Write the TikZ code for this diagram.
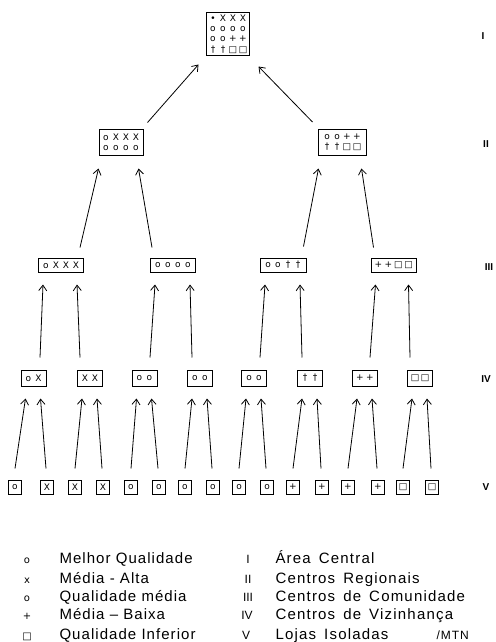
\documentclass[tikz,border=0pt]{standalone}
\usepackage{fontspec}
\setmainfont{Liberation Sans}
\newfontfamily\symf{DejaVu Sans}
\newfontfamily\legL[LetterSpace=7]{Liberation Sans}
\newfontfamily\legR[LetterSpace=8,WordSpace=1.5]{Liberation Sans}
\usetikzlibrary{arrows.meta,calc}
\newcommand\cl[1]{\makebox[10pt]{#1}}
\tikzset{
  box/.style={draw, line width=1pt, inner sep=0pt, align=center,
    font=\symf\fontsize{9}{10.3}\selectfont},
  bI/.style={box, minimum width=43pt, minimum height=43pt},
  bII/.style={box, minimum width=44pt, minimum height=26pt},
  bIII/.style={box, minimum width=45pt, minimum height=14pt},
  bIV/.style={box, minimum width=25pt, minimum height=16pt},
  bV/.style={box, minimum width=13pt, minimum height=14pt},
  arr/.style={line width=0.8pt, -{Straight Barb[length=5.5pt,width=8pt,line width=0.8pt]}},
  lvl/.style={font=\bfseries\fontsize{10}{12}\selectfont},
  legsym/.style={anchor=base, font=\symf\fontsize{10}{12}\selectfont},
  legtxt/.style={anchor=base west, font=\legL\fontsize{15}{18}\selectfont},
  legrom/.style={anchor=base, font=\fontsize{12}{14}\selectfont},
  legtxtR/.style={anchor=base west, font=\legR\fontsize{15}{18}\selectfont}
}
\begin{document}
\begin{tikzpicture}[x=1pt, y=-1pt]
\useasboundingbox (0,0) rectangle (495,642);

% level I
\node[bI] (top) at (228,34) {\cl{•}\cl{X}\cl{X}\cl{X}\\\cl{o}\cl{o}\cl{o}\cl{o}\\\cl{o}\cl{o}\cl{+}\cl{+}\\\cl{†}\cl{†}\cl{□}\cl{□}};

% level II
\node[bII] (l2a) at (121,142) {\cl{o}\cl{X}\cl{X}\cl{X}\\\cl{o}\cl{o}\cl{o}\cl{o}};
\node[bII, minimum width=48pt] (l2b) at (342,142) {\cl{o}\cl{o}\cl{+}\cl{+}\\\cl{†}\cl{†}\cl{□}\cl{□}};

% level III
\node[bIII] (l3a) at (61,265) {\cl{o}\cl{X}\cl{X}\cl{X}};
\node[bIII] (l3b) at (173,265) {\cl{o}\cl{o}\cl{o}\cl{o}};
\node[bIII, minimum width=46pt] (l3c) at (283,265) {\cl{o}\cl{o}\cl{†}\cl{†}};
\node[bIII] (l3d) at (393.5,265) {\cl{+}\cl{+}\cl{□}\cl{□}};

% level IV
\foreach \k/\x/\a/\b in {1/33.5/o/X, 2/90/X/X, 3/144.5/o/o, 4/200/o/o, 5/254/o/o, 6/310/†/†, 7/365/+/+, 8/420/□/□}
  \node[bIV] (iv\k) at (\x,378) {\cl{\a}\cl{\b}};

% level V
\foreach \k/\x/\s in {1/15/o, 2/47/X, 3/75/X, 4/103/X, 5/131/o, 6/159/o, 7/185/o, 8/213/o, 9/239/o, 10/267/o, 11/293/+, 12/322/+, 13/348/+, 14/378/+, 15/403/□, 16/432/□}
  \node[bV] (v\k) at (\x,487) {\s};

% arrows II -> I
\draw[arr] ($(l2a.north east)+(4,-6)$) -- ($(top.south west)+(-7.5,8.5)$);
\draw[arr] ($(l2b.north west)+(-5,-6.5)$) -- ($(top.south east)+(8.5,10.5)$);

% arrows III -> II
\draw[arr] ($(l3a.north)+(19,-10)$) -- ($(l2a.south west)+(0,13)$);
\draw[arr] ($(l3b.north west)+(2,-10)$) -- ($(l2a.south east)+(-5,13)$);
\draw[arr] ($(l3c.north east)+(-3,-11)$) -- ($(l2b.south west)+(1,13)$);
\draw[arr] ($(l3d.north west)+(3,-10)$) -- ($(l2b.south east)+(-5,13)$);

% arrows IV -> III
\foreach \k/\dx/\t/\hx in {1/6.5/l3a/-18, 2/-10/l3a/16, 3/5.5/l3b/-18, 4/-8/l3b/17, 5/6/l3c/-18, 6/-8/l3c/17, 7/5/l3d/-18, 8/-10/l3d/15}
  \draw[arr] ($(iv\k.north)+(\dx,-12)$) -- ($(\t.south)+(\hx,12)$);

% arrows V -> IV
\foreach \k in {1,...,8}{
  \pgfmathtruncatemacro\va{2*\k-1}
  \pgfmathtruncatemacro\vb{2*\k}
  \draw[arr] ($(v\va.north)+(0,-11)$) -- ($(iv\k.south)+(-8,12)$);
  \draw[arr] ($(v\vb.north)+(-1,-11)$) -- ($(iv\k.south)+(7,12)$);
}

% level labels
\node[lvl] (rI) at (483,36) {I};
\node[lvl] (rII) at (486,144) {II};
\node[lvl] (rIII) at (489,267) {III};
\node[lvl] (rIV) at (486,379) {IV};
\node[lvl] (rV) at (486,487) {V};

% legend
\node[legsym] (s1) at (27,563) {o};
\node[legsym] (s2) at (27,583) {x};
\node[legsym] (s3) at (27,601) {o};
\node[legsym] (s4) at (27,619) {+};
\node[legsym] (s5) at (27,639) {□};
\node[legtxt] (t1) at (56,563) {Melhor Qualidade};
\node[legtxt] (t2) at (56,583) {Média - Alta};
\node[legtxt] (t3) at (56,601) {Qualidade média};
\node[legtxt] (t4) at (56,619) {Média – Baixa};
\node[legtxt] (t5) at (56,639) {Qualidade Inferior};
\node[legrom] (m1) at (248,563) {I};
\node[legrom] (m2) at (248,583) {II};
\node[legrom] (m3) at (248,601) {III};
\node[legrom] (m4) at (247,619) {IV};
\node[legrom] (m5) at (246,639) {V};
\node[legtxtR] (u1) at (272,563) {Área Central};
\node[legtxtR] (u2) at (272,583) {Centros Regionais};
\node[legtxtR] (u3) at (272,601) {Centros de Comunidade};
\node[legtxtR] (u4) at (272,619) {Centros de Vizinhança};
\node[legtxtR] (u5) at (272,639) {Lojas Isoladas};
\node[anchor=base west, font=\legR\fontsize{12}{14}\selectfont] (mtn) at (433,639) {/MTN};
\end{tikzpicture}
\end{document}
